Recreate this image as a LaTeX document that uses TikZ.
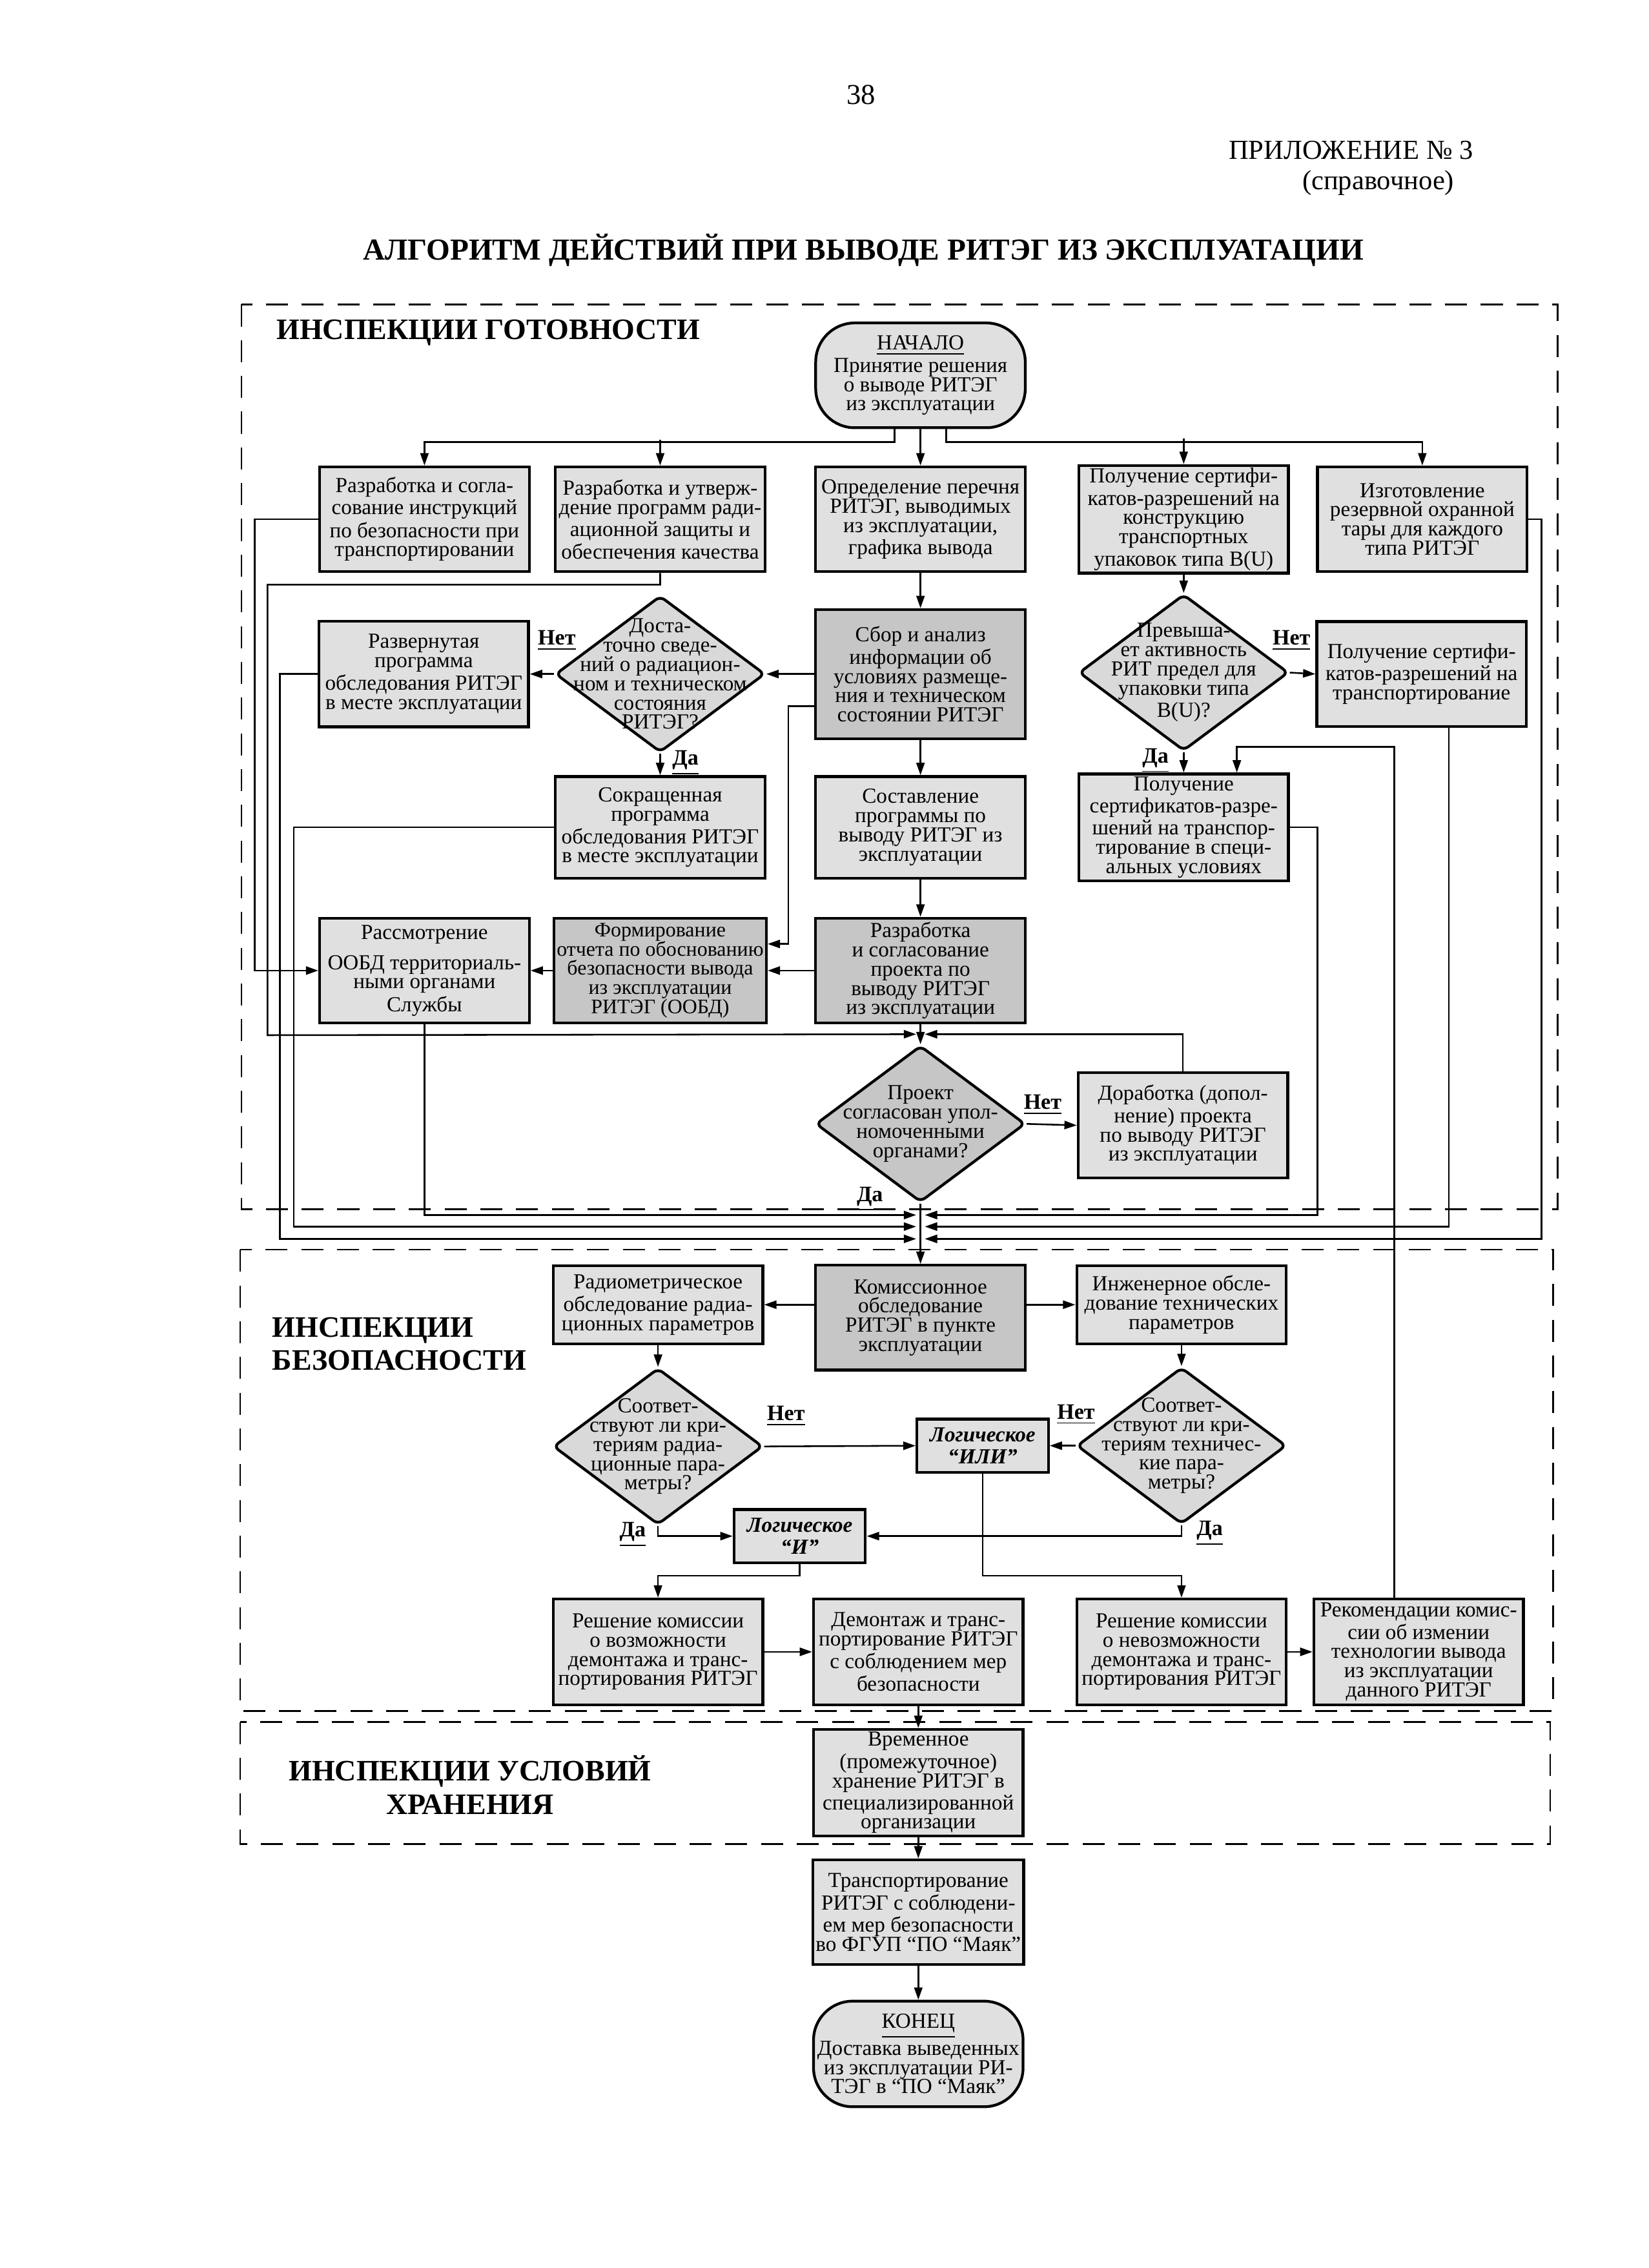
\documentclass[tikz,border=0pt]{standalone}
\usepackage{fontspec}
\setmainfont{Liberation Serif}
\usetikzlibrary{shapes.geometric,arrows.meta}

\begin{document}
\begin{tikzpicture}[x=0.0185cm, y=-0.0185cm, >={Triangle[length=4.5pt,width=3pt]}]
        \tikzstyle{every node} = [font=\fontsize{7.8}{7}\selectfont, inner sep=1pt]
        \tikzstyle{box} = [rectangle, draw, line width=1pt, fill=gray!24, minimum width=2.68cm, minimum height=1.34cm, align=center]
        \tikzstyle{darkbox} = [box, fill=gray!45]
        \tikzstyle{ends} = [box, rounded corners=0.5cm]
        \tikzstyle{ask} = [diamond, draw, line width=1pt, fill=gray!30, minimum width=2.68cm, minimum height=2cm, inner sep=0pt, rounded corners=2pt]
        \tikzstyle{logic} = [box, minimum width=1.68cm, minimum height=0.68cm, font=\fontsize{7.8}{7.8}\selectfont\bfseries\itshape]
        \tikzstyle{answer} = [font=\fontsize{8}{8}\selectfont\bfseries]
        \tikzstyle{zone} = [dash pattern=on 8pt off 5pt, line width=0.6pt]
        \tikzstyle{zonename} = [font=\fontsize{10.8}{12}\selectfont\bfseries]
        \tikzstyle{wire} = [line width=0.6pt]

        \useasboundingbox (0,0) rectangle (1140,1568);

        % header
        \node(Page) at (595.5,65.5) [font=\fontsize{10.5}{12}\selectfont] {38};
        \node(Annex) at (1021,104) [anchor=east, font=\fontsize{10}{12}\selectfont] {ПРИЛОЖЕНИЕ № 3};
        \node(Kind) at (953,126.5) [font=\fontsize{10}{12}\selectfont] {(справочное)};
        \node(Title) at (597,173) [font=\fontsize{11.1}{13}\selectfont\bfseries] {АЛГОРИТМ ДЕЙСТВИЙ ПРИ ВЫВОДЕ РИТЭГ ИЗ ЭКСПЛУАТАЦИИ};

        % inspection zones
        \draw [zone] (167,210.5) rectangle (1077,836);
        \draw [zone] (166,864) rectangle (1074,1183);
        \draw [zone] (166,1190.5) rectangle (1072,1275);
        \node(Ready) at (189,230) [zonename, anchor=west] {ИНСПЕКЦИИ ГОТОВНОСТИ};
        \node(Safety) at (186,929) [zonename, anchor=west, align=left] {ИНСПЕКЦИИ\\БЕЗОПАСНОСТИ};
        \node(Keeping) at (325,1234) [zonename, align=center] {ИНСПЕКЦИИ УСЛОВИЙ\\ХРАНЕНИЯ};

        % readiness
        \node(Start) at (636.5,259.5) [ends] {\underline{НАЧАЛО}\\Принятие решения\\о выводе РИТЭГ\\из эксплуатации};
        \node(Instructions) at (293.5,359) [box] {Разработка и согла-\\сование инструкций\\по безопасности при\\транспортировании};
        \node(Programs) at (456.5,359) [box] {Разработка и утверж-\\дение программ ради-\\ационной защиты и\\обеспечения качества};
        \node(List) at (636.5,359) [box] {Определение перечня\\РИТЭГ, выводимых\\из эксплуатации,\\графика вывода};
        \node(Package) at (818.5,359) [box] {Получение сертифи-\\катов-разрешений на\\конструкцию\\транспортных\\упаковок типа В(U)};
        \node(Spare) at (983.5,359) [box] {Изготовление\\резервной охранной\\тары для каждого\\типа РИТЭГ};

        \node(Full) at (293,466) [box, minimum height=1.35cm] {Развернутая\\программа\\обследования РИТЭГ\\в месте эксплуатации};
        \node(Enough) at (456.5,466) [ask, label={[align=center]center:Доста-\\точно сведе-\\ний о радиацион-\\ном и техническом\\состояния\\РИТЭГ?}] {};
        \node(Collect) at (636.5,466) [darkbox, minimum height=1.65cm] {Сбор и анализ\\информации об\\условиях размеще-\\ния и техническом\\состоянии РИТЭГ};
        \node(Exceeds) at (818.5,465) [ask, label={[align=center]center:Превыша-\\ет активность\\РИТ предел для\\упаковки типа\\В(U)?}] {};
        \node(Transport) at (983,466) [box] {Получение сертифи-\\катов-разрешений на\\транспортирование};

        \node(Short) at (456.5,572) [box, minimum height=1.3cm] {Сокращенная\\программа\\обследования РИТЭГ\\в месте эксплуатации};
        \node(Plan) at (636.5,572) [box, minimum height=1.3cm] {Составление\\программы по\\выводу РИТЭГ из\\эксплуатации};
        \node(Special) at (818.5,572) [box, minimum height=1.3cm] {Получение\\сертификатов-разре-\\шений на транспор-\\тирование в специ-\\альных условиях};

        \node(Review) at (293.5,671) [box] {Рассмотрение\\[4pt]ООБД территориаль-\\ными органами\\Службы};
        \node(Report) at (456.5,671) [darkbox, font=\fontsize{7.5}{7}\selectfont] {Формирование\\отчета по обоснованию\\безопасности вывода\\из эксплуатации\\РИТЭГ (ООБД)};
        \node(Project) at (636.5,671) [darkbox] {Разработка\\и согласование\\проекта по\\выводу РИТЭГ\\из эксплуатации};

        \node(Agreed) at (636.5,777) [ask, fill=gray!45, label={[align=center]center:Проект\\согласован упол-\\номоченными\\органами?}] {};
        \node(Rework) at (818,778) [box, minimum height=1.35cm] {Доработка (допол-\\нение) проекта\\по выводу РИТЭГ\\из эксплуатации};

        % safety
        \node(Radiometry) at (455,902) [box, minimum height=1cm] {Радиометрическое\\обследование радиа-\\ционных параметров};
        \node(Commission) at (636.5,911) [darkbox] {Комиссионное\\обследование\\РИТЭГ в пункте\\эксплуатации};
        \node(Engineering) at (817,902) [box, minimum height=1cm] {Инженерное обсле-\\дование технических\\параметров};

        \node(RadOK) at (455,1000) [ask, label={[align=center]center:Соответ-\\ствуют ли кри-\\териям радиа-\\ционные пара-\\метры?}] {};
        \node(Or) at (679.5,999.5) [logic] {Логическое\\“ИЛИ”};
        \node(TechOK) at (817,999.5) [ask, label={[align=center]center:Соответ-\\ствуют ли кри-\\териям техничес-\\кие пара-\\метры?}] {};
        \node(And) at (553,1062) [logic] {Логическое\\“И”};

        \node(Possible) at (455,1142) [box, minimum height=1.35cm] {Решение комиссии\\о возможности\\демонтажа и транс-\\портирования РИТЭГ};
        \node(Dismantle) at (635,1142) [box, minimum height=1.35cm] {Демонтаж и транс-\\портирование РИТЭГ\\с соблюдением мер\\безопасности};
        \node(Impossible) at (817,1142) [box, minimum height=1.35cm] {Решение комиссии\\о невозможности\\демонтажа и транс-\\портирования РИТЭГ};
        \node(Advice) at (981,1142) [box, minimum height=1.35cm] {Рекомендации комис-\\сии об измении\\технологии вывода\\из эксплуатации\\данного РИТЭГ};

        % storage and end
        \node(Storage) at (635,1232.5) [box, minimum height=1.35cm] {Временное\\(промежуточное)\\хранение РИТЭГ в\\специализированной\\организации};
        \node(Shipping) at (635,1322) [box] {Транспортирование\\РИТЭГ с соблюдени-\\ем мер безопасности\\во ФГУП “ПО “Маяк”};
        \node(End) at (635,1420) [ends, minimum height=1.35cm] {\underline{КОНЕЦ}\\Доставка выведенных\\из эксплуатации РИ-\\ТЭГ в “ПО “Маяк”};

        % merge points on the middle line
        \coordinate(ML) at (633.5,715);
        \coordinate(MR) at (639.5,715);
        \coordinate(LA) at (633.5,840);
        \coordinate(RA) at (639.5,840);
        \coordinate(LB) at (633.5,848);
        \coordinate(RB) at (639.5,848);
        \coordinate(LC) at (633.5,856.5);
        \coordinate(RC) at (639.5,856.5);

        \draw [->, wire] ([xshift=-0.33cm]Start.south) -- ++(0,9) -| (Instructions.north);
        \draw [->, wire] ([xshift=0.33cm]Start.south) -- ++(0,9) -| (Spare.north);
        \draw [->, wire] ([yshift=0.33cm]Programs.north) -- (Programs.north);
        \draw [->, wire] ([yshift=0.33cm]Package.north) -- (Package.north);
        \draw [->, wire] (Start) -- (List);

        \draw [->, wire] (List) -- (Collect);
        \draw [->, wire] (Collect) -- (Plan);
        \draw [->, wire] (Plan) -- (Project);
        \draw [->, wire] (Project) -- (Agreed);
        \draw [->, wire] (Collect.west) -- (Enough.east);
        \draw [->, wire] (Enough.west) -- (Full.east);
        \draw [->, wire] (Enough.south) -- (Short.north);
        \draw [->, wire] ([yshift=-0.41cm]Collect.west) -- ++(-18,0) |- ([yshift=0.34cm]Report.east);
        \draw [->, wire] (Project.west) -- (Report.east);
        \draw [->, wire] (Report.west) -- (Review.east);
        \draw [->, wire] (Instructions.west) -- ++(-44,0) |- (Review.west);
        \draw [->, wire] (Programs.south) -- ++(0,8) -| ++(-271.5,311.5) -- (ML);
        \draw [->, wire] (Rework.north) |- (MR);
        \draw [->, wire] (Agreed.east) -- (Rework.west);
        \draw [->, wire] (Agreed.south) -- (Commission.north);

        \draw [->, wire] (Package) -- (Exceeds);
        \draw [->, wire] (Exceeds.east) -- (Transport.west);
        \draw [->, wire] (Exceeds.south) -- (Special.north);
        \draw [->, wire] ([xshift=-0.31cm]Advice.north) |- ([xshift=0.68cm, yshift=0.33cm]Special.north) -- ([xshift=0.68cm]Special.north);

        \draw [->, wire] (Review.south) |- (LA);
        \draw [->, wire] (Short.west) -- ++(-180,0) |- (LB);
        \draw [->, wire] (Full.west) -- ++(-26,0) |- (LC);
        \draw [->, wire] (Special.east) -- ++(19,0) |- (RA);
        \draw [->, wire] ([xshift=0.35cm]Transport.south) |- (RB);
        \draw [->, wire] (Spare.east) -- ++(9,0) |- (RC);

        \draw [->, wire] (Commission.west |- Radiometry.east) -- (Radiometry.east);
        \draw [->, wire] (Commission.east |- Engineering.west) -- (Engineering.west);
        \draw [->, wire] (Radiometry) -- (RadOK);
        \draw [->, wire] (Engineering) -- (TechOK);
        \draw [->, wire] (RadOK.east) -- (Or.west);
        \draw [->, wire] (TechOK.west) -- (Or.east);
        \draw [->, wire] (RadOK.south) |- (And.west);
        \draw [->, wire] (TechOK.south) |- (And.east);
        \draw [->, wire] (And.south) -- ++(0,8) -| (Possible.north);
        \draw [->, wire] (Or.south) -- ++(0,70.5) -| (Impossible.north);
        \draw [->, wire] (Possible) -- (Dismantle);
        \draw [->, wire] (Impossible) -- (Advice);
        \draw [->, wire] (Dismantle) -- (Storage);
        \draw [->, wire] (Storage) -- (Shipping);
        \draw [->, wire] (Shipping) -- (End);

        % answers
        \node(No1) at (385,443) [answer] {\underline{Нет}};
        \node(Yes1) at (474,527.5) [answer] {\underline{Да}};
        \node(No2) at (893,443) [answer] {\underline{Нет}};
        \node(Yes2) at (799,526) [answer] {\underline{Да}};
        \node(No3) at (721,764) [answer] {\underline{Нет}};
        \node(Yes3) at (601.5,829) [answer] {\underline{Да}};
        \node(No4) at (543.5,979) [answer] {\underline{Нет}};
        \node(Yes4) at (437.5,1061) [answer] {\underline{Да}};
        \node(No5) at (744,978) [answer] {\underline{Нет}};
        \node(Yes5) at (836.5,1060) [answer] {\underline{Да}};

\end{tikzpicture}
\end{document}
